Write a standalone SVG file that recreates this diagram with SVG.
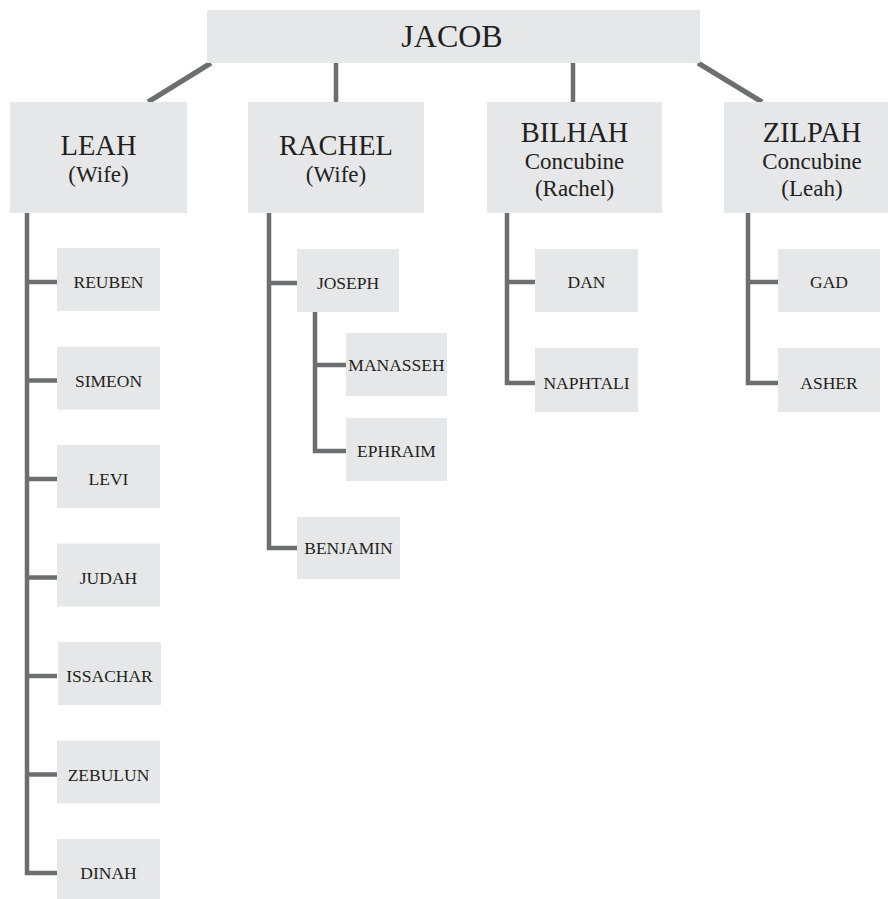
<svg xmlns="http://www.w3.org/2000/svg" width="888" height="899" viewBox="0 0 888 899">
<style>
.box{fill:#e6e7e8}
.ln{fill:none;stroke:#6d6e70;stroke-width:4.5;stroke-linejoin:miter;stroke-linecap:butt}
text{font-family:"Liberation Serif","Times New Roman",serif;fill:#231f20;text-anchor:middle}
.t0{font-size:32px}
.t1{font-size:28.5px}
.t2{font-size:23px}
.t3{font-size:17.5px}
</style>
<rect width="888" height="899" fill="#ffffff"/>
<g id="connectors" class="ln">
<line x1="211" y1="63" x2="148" y2="102" stroke-width="5"/>
<line x1="336" y1="63" x2="336" y2="102"/>
<line x1="573" y1="63" x2="573" y2="102"/>
<line x1="698" y1="63" x2="762" y2="102" stroke-width="5"/>
<polyline points="27,213 27,873 57,873"/>
<line x1="27" y1="282" x2="57" y2="282"/>
<line x1="27" y1="380.5" x2="57" y2="380.5"/>
<line x1="27" y1="479" x2="57" y2="479"/>
<line x1="27" y1="577.5" x2="57" y2="577.5"/>
<line x1="27" y1="676" x2="57" y2="676"/>
<line x1="27" y1="774.5" x2="57" y2="774.5"/>
<polyline points="269,213 269,548 297,548"/>
<line x1="269" y1="283" x2="297" y2="283"/>
<polyline points="315,312 315,451 346,451"/>
<line x1="315" y1="365" x2="346" y2="365"/>
<polyline points="507,213 507,383 535,383"/>
<line x1="507" y1="282" x2="535" y2="282"/>
<polyline points="748,213 748,383 778,383"/>
<line x1="748" y1="282" x2="778" y2="282"/>
</g>
<g id="jacob"><rect class="box" x="207" y="10" width="493" height="53"/><text class="t0" x="452" y="47">JACOB</text></g>
<g id="leah"><rect class="box" x="10" y="102" width="177" height="111"/><text class="t1" x="98.5" y="155">LEAH</text><text class="t2" x="98.5" y="182">(Wife)</text></g>
<g id="rachel"><rect class="box" x="248" y="102" width="176" height="111"/><text class="t1" x="336" y="155">RACHEL</text><text class="t2" x="336" y="182">(Wife)</text></g>
<g id="bilhah"><rect class="box" x="487" y="102" width="175" height="111"/><text class="t1" x="574.5" y="142">BILHAH</text><text class="t2" x="574.5" y="169">Concubine</text><text class="t2" x="574.5" y="196">(Rachel)</text></g>
<g id="zilpah"><rect class="box" x="724" y="102" width="176" height="111"/><text class="t1" x="812" y="142">ZILPAH</text><text class="t2" x="812" y="169">Concubine</text><text class="t2" x="812" y="196">(Leah)</text></g>
<g id="reuben"><rect class="box" x="57" y="248" width="103" height="63"/><text class="t3" x="108.5" y="288">REUBEN</text></g>
<g id="simeon"><rect class="box" x="57" y="346.5" width="103" height="63"/><text class="t3" x="108.5" y="386.5">SIMEON</text></g>
<g id="levi"><rect class="box" x="57" y="445" width="103" height="63"/><text class="t3" x="108.5" y="485">LEVI</text></g>
<g id="judah"><rect class="box" x="57" y="543.5" width="103" height="63"/><text class="t3" x="108.5" y="583.5">JUDAH</text></g>
<g id="issachar"><rect class="box" x="58" y="642" width="103" height="63"/><text class="t3" x="109.5" y="682">ISSACHAR</text></g>
<g id="zebulun"><rect class="box" x="57" y="740.5" width="103" height="63"/><text class="t3" x="108.5" y="780.5">ZEBULUN</text></g>
<g id="dinah"><rect class="box" x="57" y="839" width="103" height="63"/><text class="t3" x="108.5" y="879">DINAH</text></g>
<g id="joseph"><rect class="box" x="297" y="249" width="102" height="63"/><text class="t3" x="348" y="289">JOSEPH</text></g>
<g id="manasseh"><rect class="box" x="346" y="333" width="101" height="63"/><text class="t3" x="396.5" y="371">MANASSEH</text></g>
<g id="ephraim"><rect class="box" x="346" y="418" width="101" height="63"/><text class="t3" x="396.5" y="457">EPHRAIM</text></g>
<g id="benjamin"><rect class="box" x="297" y="517" width="103" height="62"/><text class="t3" x="348.5" y="554">BENJAMIN</text></g>
<g id="dan"><rect class="box" x="535" y="249" width="103" height="63"/><text class="t3" x="586.5" y="288">DAN</text></g>
<g id="naphtali"><rect class="box" x="535" y="348" width="103" height="64"/><text class="t3" x="586.5" y="389">NAPHTALI</text></g>
<g id="gad"><rect class="box" x="778" y="249" width="102" height="63"/><text class="t3" x="829" y="288">GAD</text></g>
<g id="asher"><rect class="box" x="778" y="348" width="102" height="64"/><text class="t3" x="829" y="389">ASHER</text></g>
</svg>
